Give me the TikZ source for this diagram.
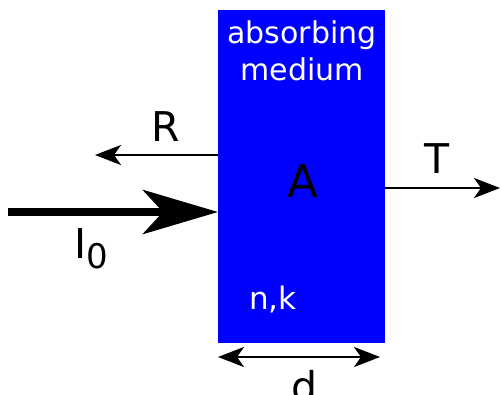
\documentclass[tikz,border=0pt]{standalone}
\usepackage{fontspec}
\setmainfont{DejaVu Sans}
\usetikzlibrary{arrows.meta}
\definecolor{slabblue}{RGB}{0,0,255}
\begin{document}
\begin{tikzpicture}[x=1pt,y=-1pt,
  tip/.tip={Stealth[length=26pt,width=20pt,inset=7pt]},
  ray/.style={line width=2.7pt,-tip},
  lbl/.style={font=\fontsize{41}{43}\selectfont,inner sep=0pt}]
\useasboundingbox (0,0) rectangle (500,394);
\node[fill=slabblue,minimum width=167pt,minimum height=333pt,inner sep=0pt,anchor=north west] (slab) at (218,10) {};
\node[align=center,text=white,font=\fontsize{30}{37}\selectfont] (name) at (302,51) {absorbing\\medium};
\node[font=\fontsize{45}{47}\selectfont] (absorb) at (303,181) {A};
\node[text=white,font=\fontsize{31}{33}\selectfont] (nk) at (273,300) {n,k};
% reflected, incident and transmitted beams
\coordinate (rend) at (95,155); \coordinate (iend) at (8,212); \coordinate (tend) at (500,188);
\draw[ray] (slab.west |- rend) -- (rend);
\node[lbl] (rlbl) at (166,127) {R};
\draw[line width=8.5pt,-{Stealth[length=75pt,width=44pt,inset=20pt]}] (iend) -- (slab.west |- iend);
\node[lbl] (ilbl) at (91,249) {I{\fontsize{34}{34}\selectfont\raisebox{-10pt}{0}}};
\draw[ray] (slab.east |- tend) -- (tend);
\node[lbl] (tlbl) at (437,159) {T};
% thickness
\coordinate (dl) at (218,357); \coordinate (dr) at (380,357);
\draw[ray,tip-tip] (dl) -- (dr);
\node[lbl] (dlbl) at (305,386) {d};
\end{tikzpicture}
\end{document}
